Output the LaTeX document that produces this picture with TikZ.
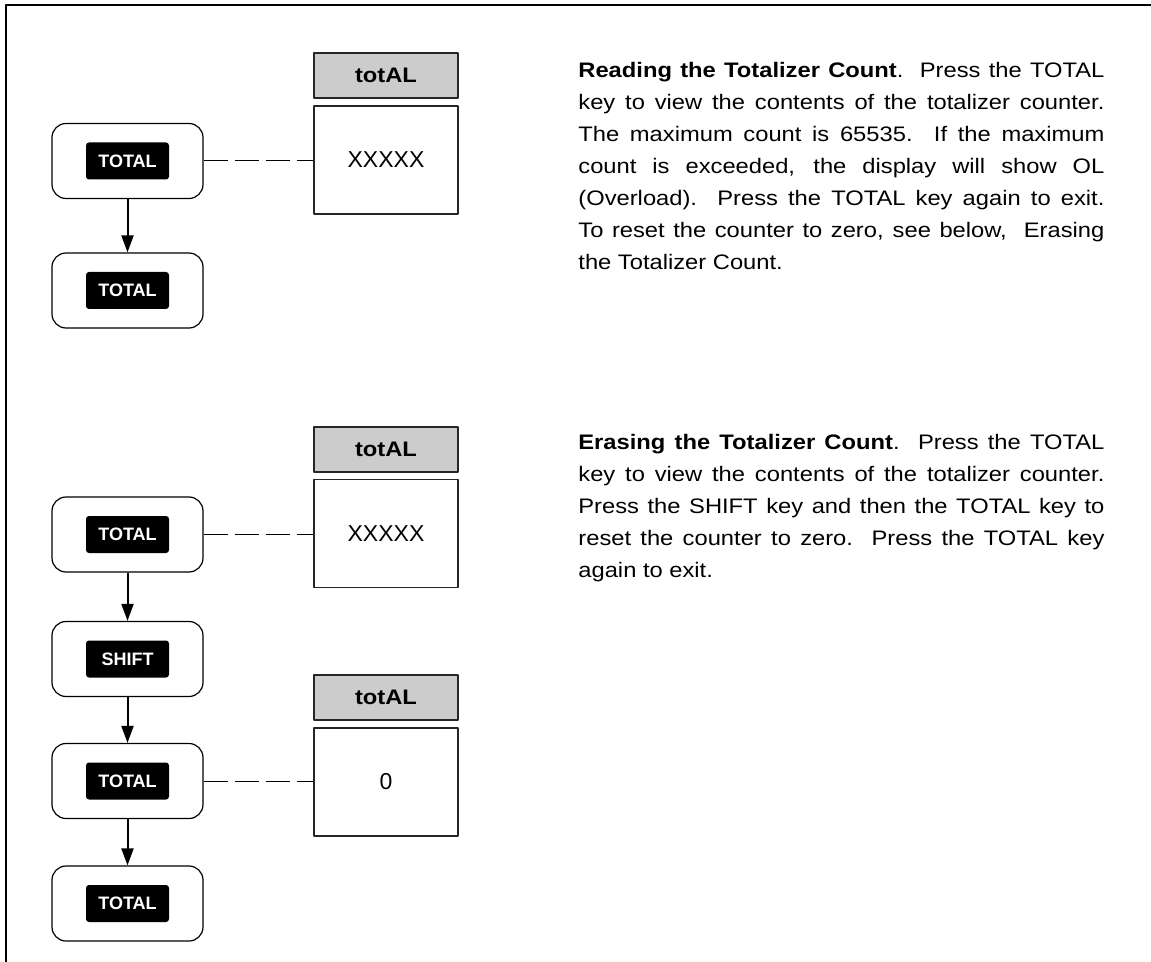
\documentclass[tikz,border=0pt]{standalone}
\usepackage{fontspec}
\setmainfont{Liberation Sans}
\newfontfamily\widefont[FakeStretch=1.13]{Liberation Sans}
\usetikzlibrary{arrows.meta}
\definecolor{hdrgray}{gray}{0.8}
\tikzset{
	keybox/.style={draw,line width=0.6pt,rounded corners=7pt,minimum width=75.5pt,minimum height=37.5pt,inner sep=0pt},
	keycap/.style={fill=black,text=white,rounded corners=1.5pt,minimum width=41.5pt,minimum height=18.5pt,inner sep=0pt,font=\fontsize{9}{10}\selectfont\bfseries},
	hdrbox/.style={draw=black!85,fill=hdrgray,line width=0.7pt,minimum width=72pt,minimum height=22.5pt,inner sep=0pt,font=\widefont\fontsize{10.5}{12}\selectfont\bfseries},
	dispbox/.style={draw=black!85,line width=0.6pt,minimum width=72pt,minimum height=54pt,inner sep=0pt,font=\fontsize{11.5}{12}\selectfont},
	dashlink/.style={line width=0.5pt,dash pattern=on 12pt off 3.5pt},
	infotext/.style={anchor=north west,inner sep=0pt,text width=263pt,align=justify,font=\widefont\fontsize{10.5}{16}\selectfont}
}
\begin{document}
\begin{tikzpicture}[x=0.5pt,y=-0.5pt,line join=round,>={Triangle[length=8.5pt,width=6pt]}]
		\useasboundingbox (0,0) rectangle (1151,962);
		\draw[line width=1pt] (6,962) -- (6,5) -- (1151,5);
		\node[keybox] (k1a) at (127.5,161) {};
		\node[keycap] (c1a) at (k1a) {TOTAL};
		\node[keybox] (k1b) at (127.5,290.5) {};
		\node[keycap] (c1b) at (k1b) {TOTAL};
		\node[hdrbox] (hd1) at (386,75.5) {totAL};
		\node[dispbox] (dp1) at (386,160) {XXXXX};
		\draw[line width=1pt,->] (k1a) -- (k1b);
		\draw[dashlink] (k1a.east) -- (k1a.east -| dp1.west);
		\node[infotext] (txt1) at (578,62) {\textbf{Reading the Totalizer Count}.\ \ Press the TOTAL\linebreak key to view the contents of the totalizer counter.\linebreak The maximum count is 65535.\ \ If the maximum\linebreak count is exceeded, the display will show OL\linebreak (Overload).\ \ Press the TOTAL key again to exit.\linebreak To reset the counter to zero, see below,\ \ Erasing\linebreak the Totalizer Count.};
		\node[keybox] (k2a) at (127.5,534.5) {};
		\node[keycap] (c2a) at (k2a) {TOTAL};
		\node[keybox] (k2b) at (127.5,659) {};
		\node[keycap] (c2b) at (k2b) {SHIFT};
		\node[keybox] (k2c) at (127.5,781) {};
		\node[keycap] (c2c) at (k2c) {TOTAL};
		\node[keybox] (k2d) at (127.5,903.5) {};
		\node[keycap] (c2d) at (k2d) {TOTAL};
		\node[hdrbox] (hd2) at (386,449.5) {totAL};
		\node[dispbox] (dp2) at (386,533.5) {XXXXX};
		\node[hdrbox] (hd3) at (386,697.5) {totAL};
		\node[dispbox] (dp3) at (386,782) {0};
		\draw[line width=1pt,->] (k2a) -- (k2b);
		\draw[line width=1pt,->] (k2b) -- (k2c);
		\draw[line width=1pt,->] (k2c) -- (k2d);
		\draw[dashlink] (k2a.east) -- (k2a.east -| dp2.west);
		\draw[dashlink] (k2c.east) -- (k2c.east -| dp3.west);
		\node[infotext] (txt2) at (578,434) {\textbf{Erasing the Totalizer Count}.\ \ Press the TOTAL\linebreak key to view the contents of the totalizer counter.\linebreak Press the SHIFT key and then the TOTAL key to\linebreak reset the counter to zero.\ \ Press the TOTAL key\linebreak again to exit.};
\end{tikzpicture}
\end{document}
